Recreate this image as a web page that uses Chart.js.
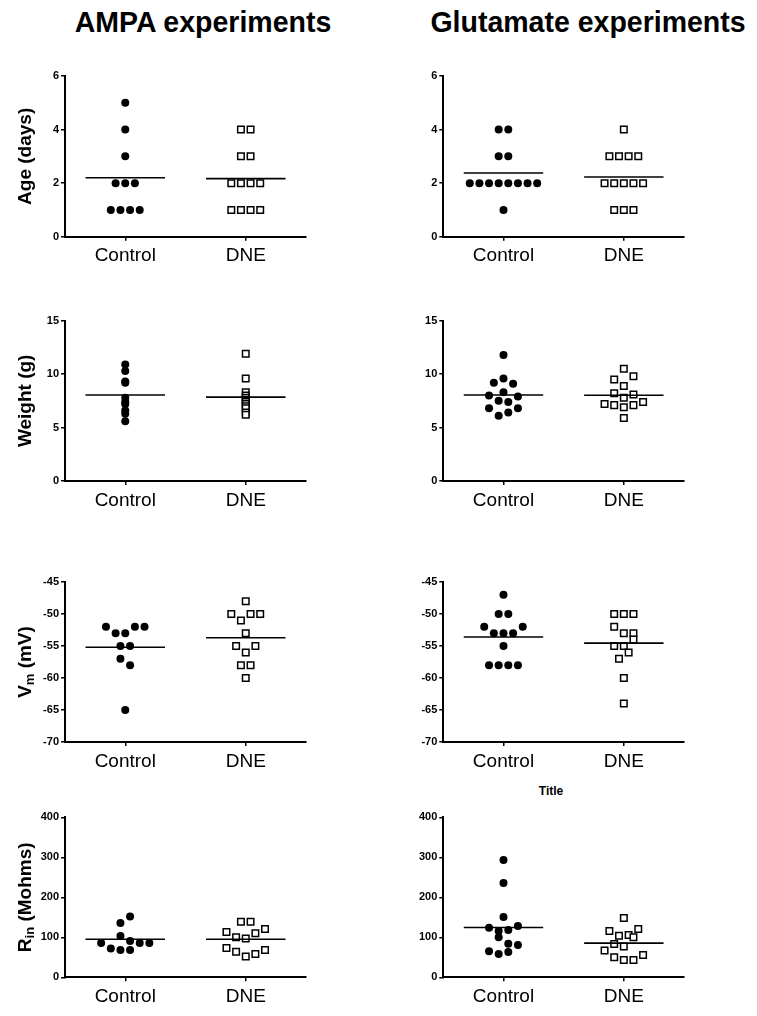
<!DOCTYPE html>
<html>
<head>
<meta charset="utf-8">
<script src="https://cdn.jsdelivr.net/npm/chart.js@4.4.1/dist/chart.umd.min.js"></script>
<style>
body { margin: 0; background: #fff; width: 757px; height: 1016px; position: relative; overflow: hidden; font-family: 'Liberation Sans', Arial, sans-serif; }
canvas { position: absolute; }
.hd { position: absolute; top: 7px; font-weight: bold; font-size: 30px; line-height: 30px; white-space: nowrap; transform: translateX(-50%) scaleX(0.95); color: #000; }
.ttl { position: absolute; font-weight: bold; font-size: 12px; transform: translate(-50%, -50%); color: #000; }
</style>
</head>
<body>
<div class="hd" style="left:203px">AMPA experiments</div>
<div class="hd" style="left:588px">Glutamate experiments</div>
<div class="ttl" style="left:551px;top:791px">Title</div>
<script>
const categories = ['Control', 'DNE']
// slots = horizontal jitter, in half-steps of the scatter spread
const ampaAgeCtrl = [5, 4, 3, 2, 2, 2, 1, 1, 1, 1]
const ampaAgeCtrlSlots = [0, 0, 0, -2, 0, 2, -3, -1, 1, 3]
const ampaAgeDne = [4, 4, 3, 3, 2, 2, 2, 2, 1, 1, 1, 1]
const ampaAgeDneSlots = [-1, 1, -1, 1, -3, -1, 1, 3, -3, -1, 1, 3]
const ampaAgeMean = [2.2, 2.17]

const gluAgeCtrl = [4, 4, 3, 3, 2, 2, 2, 2, 2, 2, 2, 2, 1]
const gluAgeCtrlSlots = [-1, 1, -1, 1, -7, -5, -3, -1, 1, 3, 5, 7, 0]
const gluAgeDne = [4, 3, 3, 3, 3, 2, 2, 2, 2, 2, 1, 1, 1]
const gluAgeDneSlots = [0, -3, -1, 1, 3, -4, -2, 0, 2, 4, -2, 0, 2]
const gluAgeMean = [2.38, 2.23]

const ampaWtCtrl = [10.9, 10.3, 9.3, 9.2, 7.8, 7.4, 7.2, 6.6, 6.3, 5.6]
const ampaWtCtrlSlots = [0, 0, 0, 0, 0, 0, 0, 0, 0, 0]
const ampaWtDne = [11.9, 9.6, 8.3, 8.0, 7.8, 7.6, 7.4, 7.2, 7.0, 6.8, 6.4, 6.2]
const ampaWtDneSlots = [0, 0, 0, 0, 0, 0, 0, 0, 0, 0, 0, 0]
const ampaWtMean = [8.05, 7.85]

const gluWtCtrl = [11.8, 9.6, 9.2, 9.1, 8.3, 8.0, 7.9, 7.5, 7.4, 6.8, 6.8, 6.4, 6.1]
const gluWtCtrlSlots = [0, 0, -2, 2, 0, -3, 3, -1, 1, -3, 3, 1, -1]
const gluWtDne = [10.5, 9.8, 9.5, 8.9, 8.2, 8.1, 7.8, 7.4, 7.2, 7.1, 7.1, 6.9, 5.9]
const gluWtDneSlots = [0, 2, -2, 0, -2, 2, 0, 4, -4, -2, 2, 0, 0]
const gluWtMean = [8.05, 8.02]

const ampaVmCtrl = [-52, -52, -52, -53, -53, -55, -55, -57, -58, -65]
const ampaVmCtrlSlots = [-4, 2, 4, -2, 0, -1, 1, -1, 1, 0]
const ampaVmDne = [-48, -50, -50, -50, -51, -53, -55, -55, -56, -58, -58, -60]
const ampaVmDneSlots = [0, -3, 1, 3, -1, 0, -2, 2, 0, -1, 1, 0]
const ampaVmMean = [-55.2, -53.7]

const gluVmCtrl = [-47, -50, -50, -52, -52, -53, -53, -53, -55, -58, -58, -58, -58]
const gluVmCtrlSlots = [0, -1, 1, -4, 4, -2, 0, 2, 0, -3, -1, 1, 3]
const gluVmDne = [-50, -50, -50, -52, -53, -53, -54, -55, -55, -56, -57, -60, -64]
const gluVmDneSlots = [-2, 0, 2, -2, 0, 2, 2, -2, 0, 1, -1, 0, 0]
const gluVmMean = [-53.6, -54.55]

const ampaRinCtrl = [152, 136, 103, 91, 86, 86, 86, 72, 68, 68]
const ampaRinCtrlSlots = [1, -1, -1, 1, -5, 3, 5, -3, -1, 1]
const ampaRinDne = [139, 139, 121, 113, 110, 100, 97, 73, 68, 64, 58, 52]
const ampaRinDneSlots = [-1, 1, 4, -4, 2, -2, 0, -4, 4, -2, 2, 0]
const ampaRinMean = [95, 95]

const gluRinCtrl = [293, 236, 151, 128, 124, 118, 116, 100, 84, 81, 65, 63, 58]
const gluRinCtrlSlots = [0, 0, 0, 3, -3, 1, -1, -1, 1, 3, -3, 1, -1]
const gluRinDne = [148, 121, 116, 106, 104, 100, 83, 77, 67, 56, 50, 43, 43]
const gluRinDneSlots = [0, 3, -3, 1, -1, 2, -2, 0, -4, 4, -2, 0, 2]
const gluRinMean = [124.5, 85.5]

const FONT = "'Liberation Sans', Arial, sans-serif"
const JITTER = 0.04
const HALF = 0.33

const cols = [
    { x: 0, w: 378, yW: 65, padRight: 72 },
    { x: 378, w: 379, yW: 65.3, padRight: 73 }
]
const rows = [
    { top: 40, h: 242, axisTop: 76, axisBot: 236.7, min: 0, max: 6, step: 2, label: [['Age (days)']] },
    { top: 284, h: 242, axisTop: 320.7, axisBot: 481, min: 0, max: 15, step: 5, label: [['Weight (g)']] },
    { top: 545, h: 240, axisTop: 582, axisBot: 742, min: -70, max: -45, step: 5, label: [['V'], ['m', 1], [' (mV)']] },
    { top: 786, h: 230, axisTop: 817.3, axisBot: 977.3, min: 0, max: 400, step: 100, label: [['R'], ['in', 1], [' (Mohms)']] }
]

// draws the rotated y title, with subscript parts
const yLabel = {
    id: 'yLabel',
    afterDraw(chart, args, opts) {
        if (!opts.parts) return
        const ctx = chart.ctx
        const a = chart.chartArea
        const big = "bold 19px " + FONT
        const small = "bold 13px " + FONT
        ctx.save()
        let total = 0
        opts.parts.forEach(p => { ctx.font = p[1] ? small : big; total += ctx.measureText(p[0]).width })
        ctx.translate(opts.x, (a.top + a.bottom) / 2)
        ctx.rotate(-Math.PI / 2)
        ctx.fillStyle = '#000'
        ctx.textBaseline = 'alphabetic'
        let cx = -total / 2
        opts.parts.forEach(p => {
            ctx.font = p[1] ? small : big
            ctx.fillText(p[0], cx, p[1] ? 10 : 7)
            cx += ctx.measureText(p[0]).width
        })
        ctx.restore()
    }
}

function pts(vals, slots, cat) {
    return vals.map((v, i) => ({ x: cat + slots[i] * JITTER, y: v }))
}

function meanLine(v, cat) {
    return {
        data: [{ x: cat - HALF, y: v }, { x: cat + HALF, y: v }],
        showLine: true, pointRadius: 0, borderColor: '#000', borderWidth: 1.6
    }
}

function panel(ri, ci, ctrl, ctrlSlots, dne, dneSlots, mean) {
    const r = rows[ri], c = cols[ci]
    const cv = document.createElement('canvas')
    cv.width = c.w
    cv.height = r.h
    cv.style.left = c.x + 'px'
    cv.style.top = r.top + 'px'
    document.body.appendChild(cv)
    new Chart(cv, {
        type: 'scatter',
        data: {
            datasets: [
                meanLine(mean[0], 0),
                meanLine(mean[1], 1),
                { data: pts(ctrl, ctrlSlots, 0), pointStyle: 'circle', pointRadius: 4, backgroundColor: '#000', borderColor: '#000', borderWidth: 0 },
                { data: pts(dne, dneSlots, 1), pointStyle: 'rect', pointRadius: 4.6, backgroundColor: '#fff', borderColor: '#000', borderWidth: 1.5 }
            ]
        },
        options: {
            responsive: false,
            animation: false,
            events: [],
            layout: { padding: { top: r.axisTop - r.top, right: c.padRight, left: 0, bottom: 0 } },
            plugins: {
                legend: { display: false },
                tooltip: { enabled: false },
                yLabel: { parts: ci === 0 ? r.label : null, x: 24 }
            },
            scales: {
                x: {
                    type: 'linear', min: -0.5, max: 1.5,
                    afterBuildTicks(s) { s.ticks = [{ value: 0 }, { value: 1 }] },
                    afterFit(s) { s.height = r.h - (r.axisBot - r.top) },
                    ticks: { callback: v => categories[v], color: '#000', font: { size: 19, family: FONT }, padding: 4, maxRotation: 0, autoSkip: false },
                    grid: { drawOnChartArea: false, color: '#000', lineWidth: 1.5, tickLength: 4 },
                    border: { color: '#000', width: 2 }
                },
                y: {
                    min: r.min, max: r.max,
                    afterFit(s) { s.width = c.yW },
                    ticks: { stepSize: r.step, color: '#000', font: { size: 11, weight: 'bold', family: FONT }, padding: 2 },
                    grid: { drawOnChartArea: false, color: '#000', lineWidth: 1.5, tickLength: 4 },
                    border: { color: '#000', width: 2 }
                }
            }
        },
        plugins: [yLabel]
    })
}

panel(0, 0, ampaAgeCtrl, ampaAgeCtrlSlots, ampaAgeDne, ampaAgeDneSlots, ampaAgeMean)
panel(0, 1, gluAgeCtrl, gluAgeCtrlSlots, gluAgeDne, gluAgeDneSlots, gluAgeMean)
panel(1, 0, ampaWtCtrl, ampaWtCtrlSlots, ampaWtDne, ampaWtDneSlots, ampaWtMean)
panel(1, 1, gluWtCtrl, gluWtCtrlSlots, gluWtDne, gluWtDneSlots, gluWtMean)
panel(2, 0, ampaVmCtrl, ampaVmCtrlSlots, ampaVmDne, ampaVmDneSlots, ampaVmMean)
panel(2, 1, gluVmCtrl, gluVmCtrlSlots, gluVmDne, gluVmDneSlots, gluVmMean)
panel(3, 0, ampaRinCtrl, ampaRinCtrlSlots, ampaRinDne, ampaRinDneSlots, ampaRinMean)
panel(3, 1, gluRinCtrl, gluRinCtrlSlots, gluRinDne, gluRinDneSlots, gluRinMean)
</script>
</body>
</html>
